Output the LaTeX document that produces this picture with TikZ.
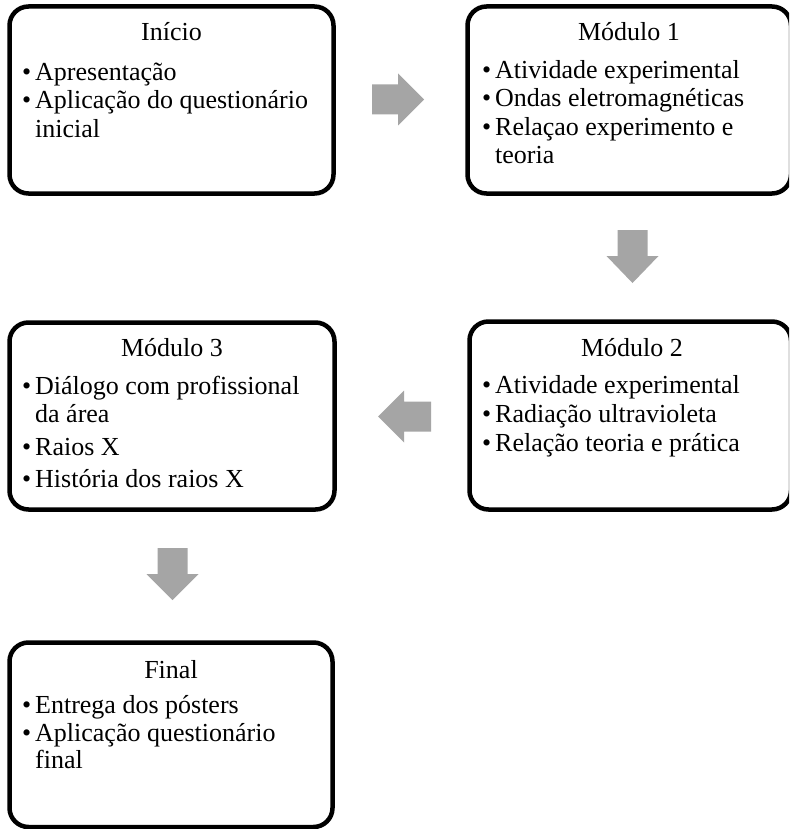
\documentclass[tikz,border=0pt]{standalone}
\usepackage{fontspec}
\setmainfont{Liberation Serif}
\definecolor{arrowgray}{HTML}{A5A5A5}
\newcommand{\bul}{\makebox[13pt][l]{\textbullet}}
\newcommand{\cnt}{\hspace*{13pt}}
\newcommand{\fst}{\rule{0pt}{24pt}}
\tikzset{
  stagebox/.style={draw=black, line width=4.5pt, rounded corners=19pt, fill=white, inner sep=0pt},
  ttl/.style={anchor=base, inner sep=0pt, font=\fontsize{26pt}{28.5pt}\selectfont},
  lst/.style={anchor=north west, inner sep=0pt, align=left, font=\fontsize{26pt}{28.5pt}\selectfont},
  blockarrow/.style={fill=arrowgray, draw=none},
}
\begin{document}
\begin{tikzpicture}[x=1pt,y=-1pt]
\useasboundingbox (0,0) rectangle (789,829);
\clip (0,0) rectangle (789,829);
\fill[white] (0,0) rectangle (789,829);

% boxes
\node[stagebox, minimum width=324pt, minimum height=187pt] (inicio) at (171.5,100) {};
\node[stagebox, minimum width=323.5pt, minimum height=187pt] (mod1) at (629.25,100) {};
\node[stagebox, minimum width=321.5pt, minimum height=188pt] (mod2) at (630.25,415.5) {};
\node[stagebox, minimum width=325pt, minimum height=187pt] (mod3) at (172,416) {};
\node[stagebox, minimum width=323pt, minimum height=184.5pt] (final) at (171,734.75) {};

% titles
\node[ttl] (tinicio) at (171.5,41) {Início};
\node[ttl] (tmod1) at (629,41) {Módulo 1};
\node[ttl] (tmod2) at (632,356) {Módulo 2};
\node[ttl] (tmod3) at (172,356) {Módulo 3};
\node[ttl] (tfinal) at (171,678) {Final};

% lists
\node[lst] (linicio) at (22,56) {\fst\bul Apresentação\\ \bul Aplicação do questionário\\ \cnt inicial};
\node[lst] (lmod1) at (482,54) {\fst\bul Atividade experimental\\ \bul Ondas eletromagnéticas\\ \bul Relaçao experimento e\\ \cnt teoria};
\node[lst] (lmod2) at (482,369) {\fst\bul Atividade experimental\\[1pt] \bul Radiação ultravioleta\\ \bul Relação teoria e prática};
\node[lst] (lmod3) at (22,370) {\fst\bul Diálogo com profissional\\ \cnt da área\\[4.5pt] \bul Raios X\\[3.5pt] \bul História dos raios X};
\node[lst] (lfinal) at (22,689) {\fst\bul Entrega dos pósters\\ \bul Aplicação questionário\\[-2pt] \cnt final};

% block arrows
\coordinate (r1) at (372,99.5);
\fill[blockarrow] (r1) ++(0,-15) -- ++(26,0) -- ++(0,-11) -- ++(26,26) -- ++(-26,26) -- ++(0,-11) -- ++(-26,0) -- cycle;
\coordinate (d1) at (632.5,230);
\fill[blockarrow] (d1) ++(-15,0) -- ++(0,26) -- ++(-11,0) -- ++(26,27) -- ++(26,-27) -- ++(-11,0) -- ++(0,-26) -- cycle;
\coordinate (l1) at (431,416.5);
\fill[blockarrow] (l1) ++(0,-15) -- ++(-27,0) -- ++(0,-11) -- ++(-26,26) -- ++(26,26) -- ++(0,-11) -- ++(27,0) -- cycle;
\coordinate (d2) at (172.5,548);
\fill[blockarrow] (d2) ++(-15,0) -- ++(0,26) -- ++(-11,0) -- ++(26,26) -- ++(26,-26) -- ++(-11,0) -- ++(0,-26) -- cycle;
\end{tikzpicture}
\end{document}
